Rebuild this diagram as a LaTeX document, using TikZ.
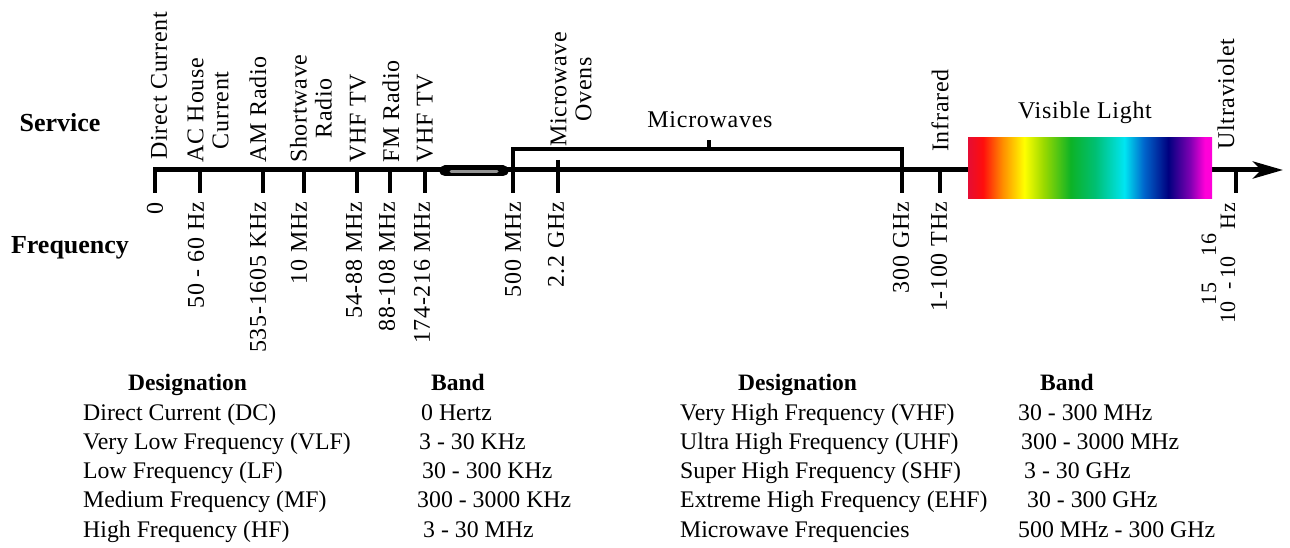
\documentclass[tikz,border=0pt]{standalone}
\usepackage{fontspec}
\setmainfont{Liberation Serif}
\newfontfamily\labfont[LetterSpace=3]{Liberation Serif}
\usetikzlibrary{arrows.meta}
\pgfdeclarehorizontalshading{spectrum}{100bp}{rgb(0bp)=(0.90,0.05,0.20); rgb(25bp)=(0.90,0.05,0.20); rgb(28bp)=(1,0.05,0.05); rgb(32bp)=(1,0.55,0); rgb(36.5bp)=(1,1,0); rgb(40.5bp)=(0.6,0.85,0); rgb(46bp)=(0.05,0.7,0.15); rgb(51bp)=(0,0.75,0.45); rgb(57bp)=(0,0.9,0.95); rgb(61bp)=(0,0.4,0.8); rgb(66bp)=(0,0,0.5); rgb(70.5bp)=(0.5,0,0.7); rgb(73.5bp)=(1,0,0.85); rgb(75bp)=(1,0,0.85); rgb(100bp)=(1,0,0.85)}
\begin{document}
\begin{tikzpicture}[x=1pt,y=-1pt,
  labf/.style={font=\labfont\fontsize{24}{25}\selectfont, inner sep=0pt},
  lab/.style={labf, align=center, rotate=90},
  svc/.style={lab, anchor=west},
  frq/.style={lab, anchor=east},
  tab/.style={font=\fontsize{23.8}{28}\selectfont, inner sep=0pt, anchor=base west},
  hdr/.style={font=\bfseries\fontsize{23.5}{27}\selectfont, inner sep=0pt, anchor=base west},
  side/.style={font=\bfseries\fontsize{26}{30}\selectfont, inner sep=0pt},
  tick/.style={line width=4pt},
  axisline/.style={line width=5pt}]
\useasboundingbox (0,0) rectangle (1290,548);

% axis
\coordinate (a0) at (153,170);
\coordinate (aend) at (1283,170);
\draw[axisline, -{Stealth[length=30pt,width=17pt,inset=8pt]}] (a0) -- (aend);

% ticks
\foreach \x in {155,200,263,304,357,390,425,940,1236}
  \draw[tick] (\x,170) -- (\x,193);
\draw[tick] (558,160) -- (558,193);

% microwave bracket
\draw[tick, line join=miter] (513,193) -- (513,149) -- (902,149) -- (902,193);
\draw[tick] (709,149) -- (709,140);

% break symbol
\draw[line width=11pt, line cap=round] (445,171) -- (503,171);
\draw[line width=3pt, gray!85, line cap=round] (451,172) -- (497,172);

% visible light
\node[shade, shading=spectrum, minimum width=244pt, minimum height=61pt, inner sep=0pt, anchor=north west] (vis) at (968,137) {};

% side headings
\node[side] (service) at (60,123) {Service};
\node[side] (freq) at (70,248) {Frequency};

% service labels
\node[svc] (s1) at (159,160) {Direct Current};
\node[svc] (s2) at (208,163) {AC House\\Current};
\node[svc] (s3) at (258,163) {AM Radio};
\node[svc] (s4) at (311,163) {Shortwave\\Radio};
\node[svc] (s5) at (358,163) {VHF TV};
\node[svc] (s6) at (391,163) {FM Radio};
\node[svc] (s7) at (425,163) {VHF TV};
\node[svc] (s8) at (571,147) {Microwave\\Ovens};
\node[svc] (s9) at (940,152) {Infrared};
\node[svc] (s10) at (1226,150) {Ultraviolet};
\node[labf] (mw) at (710,120) {Microwaves};
\node[labf] (vl) at (1085,113) {Visible Light};

% frequency labels
\node[frq] (f1) at (155,202) {0};
\node[frq] (f2) at (196,202) {50 - 60 Hz};
\node[frq] (f3) at (258,202) {535-1605 KHz};
\node[frq] (f4) at (299,202) {10 MHz};
\node[frq] (f5) at (354,202) {54-88 MHz};
\node[frq] (f6) at (387,202) {88-108 MHz};
\node[frq] (f7) at (422,202) {174-216 MHz};
\node[frq] (f8) at (513,202) {500 MHz};
\node[frq] (f9) at (556,202) {2.2 GHz};
\node[frq] (f10) at (901,202) {300 GHz};
\node[frq] (f11) at (939,202) {1-100 THz};
\node[rotate=90, inner sep=0pt, anchor=base east, font=\labfont\fontsize{22}{23}\selectfont] (f12) at (1235,203)
  {10\raisebox{19pt}{\makebox[0pt][l]{\kern-4pt 15}}\kern12pt-\kern3pt10\raisebox{19pt}{16}\kern4pt Hz};

% table left
\node[hdr] (h1) at (128,390) {Designation};
\node[hdr] (h2) at (431,390) {Band};
\node[tab] (l1) at (83,420) {Direct Current (DC)};
\node[tab] (l2) at (83,449) {Very Low Frequency (VLF)};
\node[tab] (l3) at (83,478) {Low Frequency (LF)};
\node[tab] (l4) at (83,507) {Medium Frequency (MF)};
\node[tab] (l5) at (83,537) {High Frequency (HF)};
\node[tab] (b1) at (421,420) {0 Hertz};
\node[tab] (b2) at (419,449) {3 - 30 KHz};
\node[tab] (b3) at (422,478) {30 - 300 KHz};
\node[tab] (b4) at (417,507) {300 - 3000 KHz};
\node[tab] (b5) at (423,537) {3 - 30 MHz};

% table right
\node[hdr] (h3) at (738,390) {Designation};
\node[hdr] (h4) at (1040,390) {Band};
\node[tab] (r1) at (680,420) {Very High Frequency (VHF)};
\node[tab] (r2) at (680,449) {Ultra High Frequency (UHF)};
\node[tab] (r3) at (680,478) {Super High Frequency (SHF)};
\node[tab] (r4) at (680,507) {Extreme High Frequency (EHF)};
\node[tab] (r5) at (680,537) {Microwave Frequencies};
\node[tab] (c1) at (1018,420) {30 - 300 MHz};
\node[tab] (c2) at (1021,449) {300 - 3000 MHz};
\node[tab] (c3) at (1024,478) {3 - 30 GHz};
\node[tab] (c4) at (1027,507) {30 - 300 GHz};
\node[tab] (c5) at (1018,537) {500 MHz - 300 GHz};
\end{tikzpicture}
\end{document}
